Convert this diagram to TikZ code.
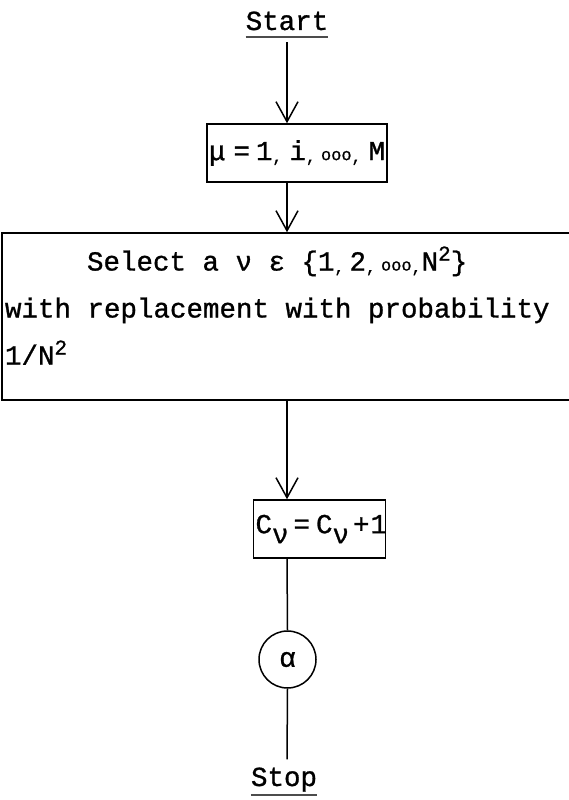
\documentclass[tikz,border=0pt]{standalone}
\usepackage{fontspec}
\setmonofont{Liberation Mono}[FakeBold=1]
\usetikzlibrary{arrows.meta,positioning}
\newcommand\lowsub[1]{\raisebox{-10pt}{#1}}
\newcommand\highsup[1]{\raisebox{10pt}{\fontsize{21}{21}\selectfont #1}}
\newcommand\lowcomma{\rlap{\raisebox{-2pt}{\fontsize{16}{16}\selectfont,}}}
\newcommand\smalldots{{\fontsize{17}{17}\selectfont ooo}}
\tikzset{
  flowtext/.style={font=\fontsize{27.5}{47}\selectfont\ttfamily,
    execute at begin node={\spaceskip=0.6em\relax\xspaceskip=0.6em\relax}},
  flowbox/.style={draw, line width=1.5pt, inner sep=2pt, flowtext},
  flowline/.style={line width=1.5pt},
  flowarrow/.style={flowline, -{Straight Barb[length=20pt,width=22pt,line width=1.5pt]}},
  endlabel/.style={flowtext, inner sep=0pt, anchor=base},
  underbar/.style={line width=2.5pt, black!70}
}
\begin{document}
\begin{tikzpicture}[x=1pt,y=-1pt]
\useasboundingbox (0,0) rectangle (568,800);
% start and stop labels
\node[endlabel] (start) at (287,30) {Start};
\node[endlabel] (stop) at (284,786) {Stop};
\draw[underbar] ([yshift=-7pt]start.base west) -- ([yshift=-7pt]start.base east);
\draw[underbar] ([yshift=-9pt]stop.base west) -- ([yshift=-9pt]stop.base east);
% boxes
\node[flowbox, minimum width=180pt, minimum height=58pt, text width=176pt, align=left] (loop) at (297,153)
  {\mbox{μ\hspace{8pt}=\hspace{6pt}1\lowcomma\hspace{17pt}i\lowcomma\hspace{15pt}\smalldots\lowcomma\hspace{17pt}M}};
\node[flowbox, minimum width=568pt, minimum height=167pt, text width=562pt, text depth=116pt, align=left, inner sep=3pt] (select) at (286,316.5)
  {\hspace{82pt}Select a ν ε \{1\lowcomma\hspace{15pt}2\lowcomma\hspace{15pt}\smalldots\lowcomma\hspace{10pt}N\highsup{2}\}\\
   with replacement with probability\\
   1/N\highsup{2}};
\node[flowbox, minimum width=132pt, minimum height=58pt, text width=128pt, align=left] (count) at (319.5,529)
  {\mbox{C\lowsub{ν}\hspace{5pt}=\hspace{6pt}C\lowsub{ν}\hspace{4pt}+\hspace{1pt}1}};
\node[draw, circle, flowline, minimum size=57pt, inner sep=0pt, flowtext] (alpha) at (287.5,659.5) {α};
% connectors
\draw[flowarrow] ([yshift=-12pt]start.south) -- (loop.north -| start);
\draw[flowarrow] (loop.south -| start) -- (select.north -| start);
\draw[flowarrow] (select.south -| start) -- (count.north -| start);
\draw[flowline] (count.south -| start) -- (alpha.north);
\draw[flowline] (alpha.south) -- ([yshift=8pt]stop.north -| start);
\end{tikzpicture}
\end{document}
